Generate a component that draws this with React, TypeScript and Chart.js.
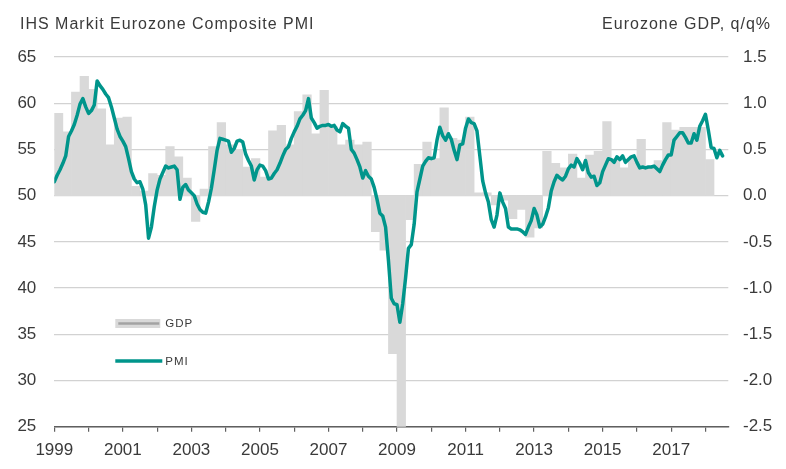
import { useEffect, useRef } from 'react';
import Chart from 'chart.js/auto';

// Eurozone composite PMI, monthly, Jan 1999 - Jul 2018
const pmiStart = 1999;
const pmiMonthly = [
  51.5, 52.2, 52.8, 53.5, 54.3, 56.4, 57.0, 57.7, 58.7, 59.9, 60.5, 59.6, // 1999
  58.9, 59.2, 59.8, 62.4, 61.9, 61.5, 61.0, 60.6, 59.6, 58.4, 57.2, 56.4, // 2000
  55.9, 55.3, 54.0, 52.6, 51.8, 51.4, 51.5, 50.7, 49.0, 45.4, 46.6, 48.8, // 2001
  50.6, 51.8, 52.5, 53.2, 53.0, 53.1, 53.2, 52.8, 49.6, 50.9, 51.2, 50.6, // 2002
  50.3, 50.0, 49.1, 48.5, 48.2, 48.1, 49.3, 50.8, 52.8, 54.9, 56.2, 56.1, // 2003
  56.0, 55.9, 54.7, 55.1, 55.9, 56.0, 55.8, 54.5, 53.8, 53.2, 51.7, 52.8, // 2004
  53.3, 53.2, 52.7, 51.8, 51.9, 52.4, 52.8, 53.5, 54.3, 55.0, 55.3, 56.2, // 2005
  56.9, 57.5, 58.3, 58.7, 59.2, 60.5, 58.4, 57.9, 57.3, 57.5, 57.6, 57.6, // 2006
  57.7, 57.5, 57.6, 57.1, 56.9, 57.8, 57.5, 57.3, 55.0, 54.6, 53.9, 53.1, // 2007
  51.9, 52.7, 52.1, 51.8, 50.9, 49.6, 48.1, 47.8, 46.6, 43.0, 38.9, 38.3, // 2008
  38.2, 36.3, 38.3, 41.1, 44.3, 44.7, 46.9, 50.4, 51.8, 53.2, 53.7, 54.1, // 2009
  54.0, 54.1, 56.0, 57.4, 56.5, 56.0, 56.7, 56.1, 54.9, 53.9, 55.5, 55.6, // 2010
  57.3, 58.3, 57.9, 57.8, 57.0, 54.3, 51.6, 50.3, 49.3, 47.4, 46.6, 47.9, // 2011
  50.3, 49.3, 48.6, 46.6, 46.4, 46.4, 46.4, 46.3, 46.1, 45.8, 46.6, 47.3, // 2012
  48.6, 47.9, 46.6, 46.9, 47.7, 48.7, 50.5, 51.5, 52.2, 51.9, 51.7, 52.1, // 2013
  52.9, 53.3, 53.1, 54.0, 53.5, 52.8, 53.8, 52.5, 52.0, 52.1, 51.1, 51.4, // 2014
  52.6, 53.3, 54.0, 53.9, 53.6, 54.2, 53.9, 54.3, 53.6, 53.9, 54.2, 54.3, // 2015
  53.6, 53.0, 53.1, 53.0, 53.1, 53.1, 53.2, 52.9, 52.6, 53.3, 53.9, 54.4, // 2016
  54.4, 56.0, 56.4, 56.8, 56.8, 56.3, 55.7, 55.7, 56.7, 56.0, 57.5, 58.1, // 2017
  58.8, 57.1, 55.2, 55.1, 54.1, 54.9, 54.3, // 2018
];

// Eurozone GDP q/q %, quarterly, 1999 Q1 - 2018 Q1
const gdpQuarterly = [
  0.89, 0.69, 1.12, 1.29, // 1999
  1.15, 0.94, 0.55, 0.84, // 2000
  0.85, 0.1, 0.05, 0.24, // 2001
  0.22, 0.53, 0.42, 0.19, // 2002
  -0.28, 0.07, 0.53, 0.79, // 2003
  0.55, 0.5, 0.31, 0.4, // 2004
  0.2, 0.7, 0.76, 0.55, // 2005
  0.91, 1.09, 0.67, 1.14, // 2006
  0.75, 0.55, 0.6, 0.55, // 2007
  0.58, -0.39, -0.59, -1.71, // 2008
  -3.0, -0.26, 0.34, 0.58, // 2009
  0.4, 0.95, 0.62, 0.6, // 2010
  0.85, 0.03, 0.03, -0.1, // 2011
  -0.05, -0.25, -0.15, -0.45, // 2012
  -0.35, 0.48, 0.35, 0.3, // 2013
  0.45, 0.19, 0.44, 0.48, // 2014
  0.8, 0.4, 0.3, 0.4, // 2015
  0.61, 0.3, 0.38, 0.79, // 2016
  0.71, 0.74, 0.74, 0.74, // 2017
  0.39, // 2018
];

const axisEnd = 2018 + 8 / 12;
const pmiTicks = { min: 25, max: 65, step: 5 };
const gdpTicks = { min: -2.5, max: 1.5, step: 0.5 };

const leftTitle = 'IHS Markit Eurozone Composite PMI';
const rightTitle = 'Eurozone GDP, q/q%';
const legendGdp = 'GDP';
const legendPmi = 'PMI';

const TEAL = '#00958b';
const BAR_GREY = '#d9d9d9';
const TEXT = '#3a3a3a';
const GRID = '#d2d2d2';
const AXIS = '#5f5f5f';
const FONT = '"Liberation Sans", Arial, sans-serif';

const headerAndLegend = {
  id: 'headerAndLegend',
  afterDraw(chart: Chart) {
    const { ctx, chartArea } = chart;
    ctx.save();
    ctx.fillStyle = TEXT;
    ctx.font = `16px ${FONT}`;
    (ctx as any).letterSpacing = '1px';
    ctx.textBaseline = 'middle';
    ctx.textAlign = 'left';
    ctx.fillText(leftTitle, 20, 25);
    ctx.textAlign = 'right';
    ctx.fillText(rightTitle, chart.width - 15, 25);

    // legend inside the plot
    const lx = chartArea.left + 61;
    const gy = chartArea.top + 266.5;
    const py = chartArea.top + 304;
    ctx.fillStyle = BAR_GREY;
    ctx.fillRect(lx, gy - 4.5, 45, 9);
    ctx.strokeStyle = '#a3a3a3';
    ctx.lineWidth = 2.5;
    ctx.beginPath();
    ctx.moveTo(lx + 3, gy);
    ctx.lineTo(lx + 44, gy);
    ctx.stroke();
    ctx.strokeStyle = TEAL;
    ctx.lineWidth = 3.5;
    ctx.beginPath();
    ctx.moveTo(lx, py);
    ctx.lineTo(lx + 47, py);
    ctx.stroke();
    ctx.fillStyle = TEXT;
    ctx.font = `11.5px ${FONT}`;
    ctx.textAlign = 'left';
    ctx.fillText(legendGdp, lx + 50, gy + 0.5);
    ctx.fillText(legendPmi, lx + 50, py + 0.5);
    ctx.restore();
  },
};

export default function App() {
  const chartRef = useRef<HTMLCanvasElement>(null);
  const chartInstance = useRef<Chart | null>(null);

  useEffect(() => {
    document.body.style.margin = '0';
    if (!chartRef.current) return;
    if (chartInstance.current) chartInstance.current.destroy();
    const ctx = chartRef.current.getContext('2d');
    if (!ctx) return;

    const pmiPoints = pmiMonthly.map((v, i) => ({ x: pmiStart + i / 12, y: v }));
    const gdpPoints = gdpQuarterly.map((v, i) => ({ x: pmiStart + i / 4 + 0.125, y: v }));
    const tickFont = { family: FONT, size: 17 };

    chartInstance.current = new Chart(ctx, {
      type: 'bar',
      data: {
        datasets: [
          {
            type: 'line',
            label: legendPmi,
            data: pmiPoints,
            yAxisID: 'y',
            borderColor: TEAL,
            borderWidth: 3.5,
            pointRadius: 0,
            tension: 0,
            borderJoinStyle: 'round',
            borderCapStyle: 'round',
            order: 0,
          },
          {
            type: 'bar',
            label: legendGdp,
            data: gdpPoints,
            yAxisID: 'y2',
            backgroundColor: BAR_GREY,
            borderWidth: 0,
            barPercentage: 1,
            categoryPercentage: 1,
            grouped: false,
            order: 1,
          },
        ],
      } as any,
      options: {
        animation: false,
        responsive: false,
        layout: { padding: { top: 57, left: 0, right: 0, bottom: 0 } },
        plugins: { legend: { display: false }, tooltip: { enabled: false } },
        scales: {
          x: {
            type: 'linear',
            min: pmiStart,
            max: axisEnd,
            offset: false,
            afterFit: (s: any) => { s.height = 42.3; },
            grid: { drawOnChartArea: false, offset: false, tickLength: 5, color: AXIS, lineWidth: 1.2 },
            border: { color: AXIS, width: 1.5 },
            ticks: {
              stepSize: 1,
              includeBounds: false,
              autoSkip: false,
              maxRotation: 0,
              padding: 8,
              color: TEXT,
              font: tickFont,
              callback: (v: any) => (Number(v) % 2 === 1 ? String(v) : ''),
            },
          },
          y: {
            position: 'left',
            min: pmiTicks.min,
            max: pmiTicks.max,
            afterFit: (s: any) => { s.width = 54.3; },
            grid: { color: GRID, lineWidth: 1.2, drawTicks: false },
            border: { display: false },
            ticks: { stepSize: pmiTicks.step, padding: 18, color: TEXT, font: tickFont },
          },
          y2: {
            position: 'right',
            min: gdpTicks.min,
            max: gdpTicks.max,
            afterFit: (s: any) => { s.width = 57.7; },
            grid: { display: false, drawTicks: false },
            border: { display: false },
            ticks: {
              stepSize: gdpTicks.step,
              padding: 14.7,
              color: TEXT,
              font: tickFont,
              callback: (v: any) => Number(v).toFixed(1),
            },
          },
        },
      } as any,
      plugins: [headerAndLegend],
    });

    return () => {
      if (chartInstance.current) {
        chartInstance.current.destroy();
        chartInstance.current = null;
      }
    };
  }, []);

  return (
    <div style={{ width: 786, height: 469, background: '#fff' }}>
      <canvas ref={chartRef} width={786} height={469} style={{ display: 'block' }} />
    </div>
  );
}
